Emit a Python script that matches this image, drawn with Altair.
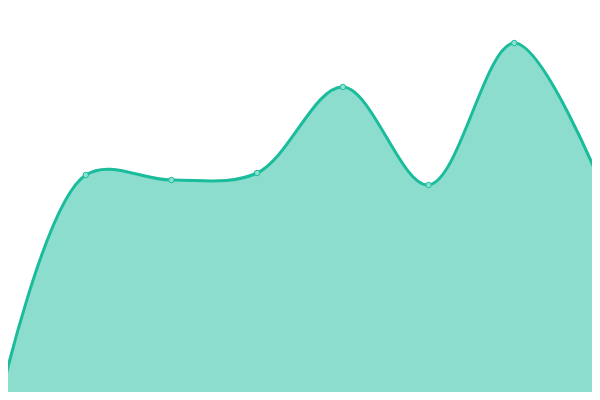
import altair as alt
import pandas as pd

xs = [0, 1, 2, 3, 4, 5, 6, 7]
values = [0, 225, 220, 227, 313, 215, 357, 218]

df = pd.DataFrame({"x": xs, "v": values})

base = alt.Chart(df).encode(
    x=alt.X("x:Q", scale=alt.Scale(domain=[0, 7], nice=False, zero=False), axis=None),
    y=alt.Y("v:Q", scale=alt.Scale(domain=[0, 400], nice=False), axis=None),
)

area = base.mark_area(
    interpolate="catmull-rom",
    color="#1abc9c",
    fillOpacity=0.5,
    line={"color": "#1abc9c", "strokeWidth": 3},
    clip=True,
)
pts = base.mark_point(
    shape="circle", size=30, filled=True, fill="#8ee0d0", stroke="#1abc9c",
    strokeWidth=1, opacity=1, clip=True,
)

chart = (area + pts).properties(
    width=600, height=400,
    padding={"left": -8, "top": -8, "right": -8, "bottom": -8},
).configure_view(stroke=None)
chart.save("out.html", embed_options={"renderer": "svg", "actions": False})
